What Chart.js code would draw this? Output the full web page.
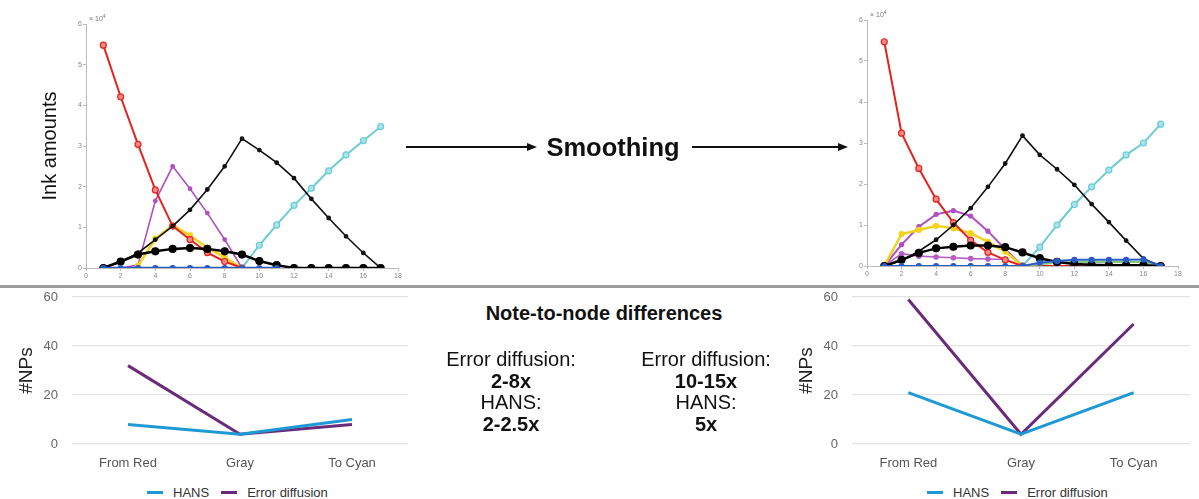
<!DOCTYPE html>
<html>
<head>
<meta charset="utf-8">
<script src="https://cdn.jsdelivr.net/npm/chart.js@4.4.0/dist/chart.umd.min.js"></script>
<style>
html,body{margin:0;padding:0;background:#fff;}
body{width:1199px;height:499px;position:relative;overflow:hidden;font-family:"Liberation Sans",Arial,sans-serif;color:#111;}
.box{position:absolute;}
.sep{position:absolute;left:0;top:285px;width:1199px;height:3px;background:#9c9c9c;}
.exp{position:absolute;font-size:7px;color:#777;}
.smooth{position:absolute;left:540px;top:132px;width:146px;text-align:center;font-weight:bold;font-size:25.5px;line-height:30px;}
.ntitle{position:absolute;left:454px;top:301px;width:300px;text-align:center;font-weight:bold;font-size:20px;line-height:24px;}
.col{position:absolute;top:349px;width:200px;text-align:center;font-size:20px;line-height:21.7px;}
.col b{font-weight:bold;}
.legend{position:absolute;top:484px;height:16px;display:flex;align-items:center;font-size:13px;color:#333;}
.legend .sw{width:16px;height:3px;margin-right:10px;}
.legend .tx{margin-right:12px;}
</style>
</head>
<body>
<div class="sep"></div>

<div class="box" style="left:38px;top:0;width:374px;height:285px;"><canvas id="inkBefore"></canvas></div>
<div class="box" style="left:819px;top:0;width:373px;height:285px;"><canvas id="inkAfter"></canvas></div>
<div class="exp" style="left:89px;top:13px;">&times; 10<sup style="font-size:5px">4</sup></div>
<div class="exp" style="left:870px;top:9px;">&times; 10<sup style="font-size:5px">4</sup></div>

<svg class="box" style="left:0;top:0;" width="1199" height="285">
  <line x1="406" y1="147" x2="529" y2="147" stroke="#111" stroke-width="2"/>
  <polygon points="537,147 527,143 527,151" fill="#111"/>
  <line x1="692" y1="147" x2="840" y2="147" stroke="#111" stroke-width="2"/>
  <polygon points="848,147 838,143 838,151" fill="#111"/>
</svg>
<div class="smooth">Smoothing</div>

<div class="box" style="left:0;top:287px;width:420px;height:190px;"><canvas id="npBefore"></canvas></div>
<div class="box" style="left:780px;top:287px;width:419px;height:190px;"><canvas id="npAfter"></canvas></div>
<div class="legend" id="legBefore" style="left:147px;"></div>
<div class="legend" id="legAfter" style="left:927px;"></div>

<div class="ntitle">Note-to-node differences</div>
<div class="col" style="left:411px;">Error diffusion:<br><b>2-8x</b><br>HANS:<br><b>2-2.5x</b></div>
<div class="col" style="left:606px;">Error diffusion:<br><b>10-15x</b><br>HANS:<br><b>5x</b></div>

<script>
// ---------- data: ink amounts (units of 10^4) ----------
const steps = [1,2,3,4,5,6,7,8,9,10,11,12,13,14,15,16,17];

const beforeRed       = [5.48,4.21,3.04,1.92,1.03,0.70,0.38,0.16,0,null,null,null,null,null,null,null,null];
const beforeMagenta   = [0,0,0.07,1.65,2.50,1.95,1.35,0.70,0,null,null,null,null,null,null,null,null];
const beforeYellow    = [null,null,0.05,0.72,1.05,0.80,0.50,0.26,0,null,null,null,null,null,null,null,null];
const beforeBlackDiag = [0,0.15,0.37,0.70,1.03,1.43,1.93,2.50,3.18,2.90,2.59,2.21,1.70,1.23,0.78,0.37,0];
const beforeBlackBell = [0,0.16,0.33,0.41,0.47,0.49,0.47,0.41,0.33,0.17,0.07,0,0,0,0,0,0];
const beforeCyan      = [null,null,null,null,null,null,null,null,0,0.56,1.06,1.54,1.96,2.39,2.78,3.13,3.48];
const beforeBlue      = [0,0,0,0,0,0,0,0,0,0,0,null,null,null,null,null,null];

const afterRed        = [5.47,3.24,2.38,1.63,1.06,0.63,0.33,0.15,0,0,0,0,0,0,0,0,0];
const afterMagentaHi  = [0,0.52,0.96,1.26,1.35,1.22,0.85,0.41,0,null,null,null,null,null,null,null,null];
const afterMagentaLo  = [0,0.30,0.24,0.22,0.20,0.18,0.17,0.16,0,null,null,null,null,null,null,null,null];
const afterYellow     = [0,0.78,0.88,0.98,0.92,0.80,0.59,0.35,0,null,null,null,null,null,null,null,null];
const afterBlackDiag  = [0,0.13,0.36,0.64,1.00,1.41,1.93,2.50,3.18,2.71,2.36,1.98,1.51,1.07,0.62,0.18,0];
const afterBlackBell  = [0,0.15,0.32,0.43,0.47,0.50,0.50,0.46,0.33,0.19,0.10,0.05,0.03,0.02,0.02,0.02,0];
const afterCyan       = [null,null,null,null,null,null,null,null,0,0.46,1.00,1.50,1.93,2.34,2.71,3.00,3.46];
const afterBlue       = [0,0,0,0,0,0,0,0,0,0.08,0.12,0.15,0.15,0.15,0.15,0.16,0];
const afterGreen      = [null,null,null,null,null,null,null,null,0,0.04,0.08,0.10,0.10,0.10,0.10,0.10,0];

// ---------- data: number of NPs ----------
const transitions = ['From Red','Gray','To Cyan'];
const hansBefore  = [8,4,10];
const edBefore    = [32,4,8];
const hansAfter   = [21,4,21];
const edAfter     = [59,4,49];

// ---------- helpers ----------
Chart.defaults.font.family = '"Liberation Sans", Arial, sans-serif';
Chart.defaults.animation = false;

const pts = arr => arr.map((v,i) => v === null ? null : {x: steps[i], y: v}).filter(p => p);

function inkSet(label, arr, color, fill, width, radius){
  return {label, data: pts(arr), borderColor: color, backgroundColor: fill,
          pointBackgroundColor: fill, pointBorderColor: color, pointBorderWidth: 1.2,
          borderWidth: width, pointRadius: radius, tension: 0};
}

function inkChart(id, datasets, yTitle, yW, padR, padT, xH){
  const tickFont = {size: 7};
  return new Chart(document.getElementById(id), {
    type: 'line',
    data: {datasets},
    options: {
      responsive: true, maintainAspectRatio: false,
      layout: {padding: {left: 0, right: padR, top: padT, bottom: 0}},
      plugins: {legend: {display: false}, tooltip: {enabled: false}},
      scales: {
        x: {type: 'linear', min: 0, max: 18,
            ticks: {stepSize: 2, font: tickFont, color: '#888', padding: 1, maxRotation: 0},
            grid: {drawOnChartArea: false, tickLength: 3, color: '#bbb'},
            border: {color: '#bbb'},
            afterFit: s => { s.height = xH; }},
        y: {min: 0, max: 6,
            ticks: {stepSize: 1, font: tickFont, color: '#888', padding: 1},
            grid: {drawOnChartArea: false, tickLength: 3, color: '#bbb'},
            border: {color: '#bbb'},
            title: {display: !!yTitle, text: yTitle || '', font: {size: 20}, color: '#111', padding: 0},
            afterFit: s => { s.width = yW; }}
      }
    }
  });
}

inkChart('inkBefore', [
  inkSet('blue', beforeBlue, '#2a5cc4', '#2a5cc4', 2.5, 2.5),
  inkSet('bell', beforeBlackBell, '#000', '#000', 2.5, 3.5),
  inkSet('diag', beforeBlackDiag, '#111', '#111', 1.6, 1.8),
  inkSet('red', beforeRed, '#e5231d', '#f08a86', 2, 3),
  inkSet('yellow', beforeYellow, '#f4d21c', '#f4d21c', 2.5, 2.5),
  inkSet('magenta', beforeMagenta, '#b04fc0', '#b04fc0', 1.6, 1.8),
  inkSet('cyan', beforeCyan, '#6cccd6', '#a9e2e8', 2, 3)
], 'Ink amounts', 48, 14, 24, 17);

inkChart('inkAfter', [
  inkSet('blue', afterBlue, '#2a5cc4', '#2a5cc4', 2, 2.5),
  inkSet('bell', afterBlackBell, '#000', '#000', 2.5, 3.5),
  inkSet('diag', afterBlackDiag, '#111', '#111', 1.6, 1.8),
  inkSet('green', afterGreen, '#86c77a', '#86c77a', 2, 0),
  inkSet('red', afterRed, '#e5231d', '#f08a86', 2, 3),
  inkSet('yellow', afterYellow, '#f4d21c', '#f4d21c', 2.5, 2.5),
  inkSet('magentaHi', afterMagentaHi, '#b04fc0', '#b04fc0', 2, 2),
  inkSet('magentaLo', afterMagentaLo, '#b85cc6', '#b85cc6', 1.6, 2.2),
  inkSet('cyan', afterCyan, '#6cccd6', '#a9e2e8', 2, 3)
], null, 48, 14, 20, 19);

function npChart(id, legId, hans, ed, padR){
  const ch = new Chart(document.getElementById(id), {
    type: 'line',
    data: {labels: transitions, datasets: [
      {label: 'HANS', data: hans, borderColor: '#1e99d4', backgroundColor: '#1e99d4', borderWidth: 3, pointRadius: 0, tension: 0},
      {label: 'Error diffusion', data: ed, borderColor: '#6b2b7b', backgroundColor: '#6b2b7b', borderWidth: 3, pointRadius: 0, tension: 0}
    ]},
    options: {
      responsive: true, maintainAspectRatio: false,
      layout: {padding: {left: 0, right: padR, top: 10, bottom: 0}},
      plugins: {legend: {display: false}, tooltip: {enabled: false}},
      scales: {
        x: {offset: true, grid: {display: false, drawTicks: false}, border: {display: false},
            ticks: {font: {size: 13}, color: '#555', padding: 12},
            afterFit: s => { s.height = 33; }},
        y: {min: 0, max: 60,
            ticks: {stepSize: 20, font: {size: 13}, color: '#666', padding: 0},
            grid: {color: '#e3e3e3', drawTicks: true, tickLength: 14, tickColor: 'rgba(0,0,0,0)', lineWidth: 1.2},
            border: {display: false},
            title: {display: true, text: '#NPs', font: {size: 19}, color: '#222', padding: {top: 15, bottom: 0}},
            afterFit: s => { s.width = 72; }}
      }
    }
  });
  const leg = document.getElementById(legId);
  ch.data.datasets.forEach(ds => {
    const sw = document.createElement('span'); sw.className = 'sw'; sw.style.background = ds.borderColor;
    const tx = document.createElement('span'); tx.className = 'tx'; tx.textContent = ds.label;
    leg.appendChild(sw); leg.appendChild(tx);
  });
}

npChart('npBefore', 'legBefore', hansBefore, edBefore, 12);
npChart('npAfter', 'legAfter', hansAfter, edAfter, 9);
</script>
</body>
</html>
